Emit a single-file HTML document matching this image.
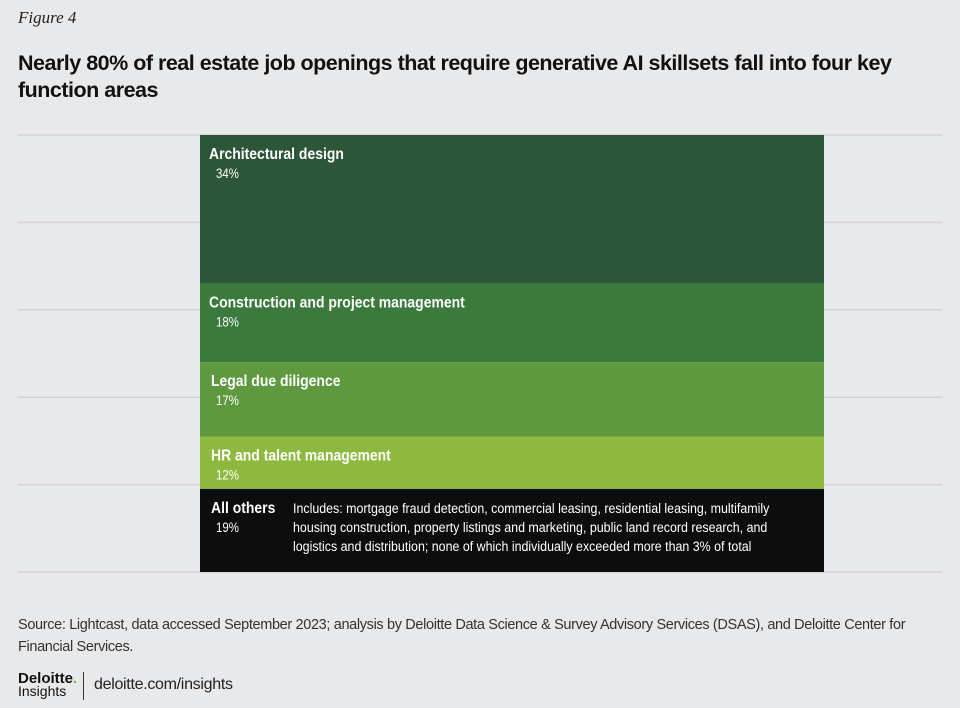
<!DOCTYPE html>
<html><head><meta charset="utf-8"><style>
body{margin:0;background:#e8e9eb;}
#wrap{position:relative;width:960px;height:708px;background:#e8e9eb;font-family:"Liberation Sans",sans-serif;overflow:hidden}
.fig{position:absolute;left:18px;top:8px;font-family:"Liberation Serif",serif;font-style:italic;font-size:17px;color:#222}
.title{position:absolute;left:18px;top:50px;width:935px;font-weight:bold;font-size:21.5px;line-height:27px;color:#111;letter-spacing:-0.5px}
.src{position:absolute;left:18px;top:614px;width:935px;font-size:14.5px;line-height:22px;color:#333;letter-spacing:-0.35px}
.logo{position:absolute;left:18px;top:672px;font-size:14px;line-height:13px;color:#111}
.sep{position:absolute;left:83px;top:672px;width:1px;height:28px;background:#333}
.url{position:absolute;left:94px;top:676px;font-size:16px;color:#222;letter-spacing:-0.3px}
</style></head><body>
<div id="wrap">
<div class="fig">Figure 4</div>
<div class="title">Nearly 80% of real estate job openings that require generative AI skillsets fall into four key function areas</div>
<svg id="chart" width="960" height="708" style="position:absolute;left:0;top:0"></svg>
<div class="src">Source: Lightcast, data accessed September 2023; analysis by Deloitte Data Science &amp; Survey Advisory Services (DSAS), and Deloitte Center for Financial Services.</div>
<div class="logo"><b style="font-size:15px">Deloitte<span style="color:#86bc25">.</span></b><br>Insights</div>
<div class="sep"></div>
<div class="url">deloitte.com/insights</div>
</div>
<script>
const categories=["Architectural design","Construction and project management","Legal due diligence","HR and talent management","All others"];
const values=[34,18,17,12,19];
const labels=["34%","18%","17%","12%","19%"];
const gridTicks=[0,20,40,60,80,100];
const colors=["#2d5538","#3a7a3c","#5e9940","#8db93f","#0d0d0d"];
const note=["Includes: mortgage fraud detection, commercial leasing, residential leasing, multifamily","housing construction, property listings and marketing, public land record research, and","logistics and distribution; none of which individually exceeded more than 3% of total"];
const svg=document.getElementById('chart');
const NS="http://www.w3.org/2000/svg";
const top0=135,h=437,x0=200,x1=824;
function y(p){return top0+p/100*h;}
function mk(t,a){const e=document.createElementNS(NS,t);for(const k in a)e.setAttribute(k,a[k]);svg.appendChild(e);return e;}
function fit(e,ratio){const w=e.getComputedTextLength();e.setAttribute('textLength',w*ratio);e.setAttribute('lengthAdjust','spacingAndGlyphs');}
gridTicks.forEach(t=>{const l=mk('line',{x1:18,x2:942,y1:y(t),y2:y(t),stroke:'#d2d3d5','stroke-width':1.5});

});
let cum=0;
values.forEach((v,i)=>{
 const r=mk('rect',{x:x0,y:y(cum),width:x1-x0,height:y(cum+v)-y(cum),fill:colors[i]});
 
 
 const ty=y(cum);
 const t=mk('text',{x:i>=2?211:209,y:ty+24,fill:'#fff','font-size':15.5,'font-weight':'bold','font-family':'"Liberation Sans",sans-serif'});
 t.textContent=categories[i];
 
 
 fit(t,0.9);
 const p=mk('text',{x:216,y:ty+43,fill:'#fff','font-size':13.5,'font-family':'"Liberation Sans",sans-serif'});
 p.textContent=labels[i];
 
 
 fit(p,0.85);
 if(i===4){note.forEach((s,j)=>{const n=mk('text',{x:293,y:ty+24+j*19,fill:'#fff','font-size':13.5,'font-family':'"Liberation Sans",sans-serif'});
  n.textContent=s;
  
  
  fit(n,0.92);});}
 cum+=v;
});
</script>
</body></html>
